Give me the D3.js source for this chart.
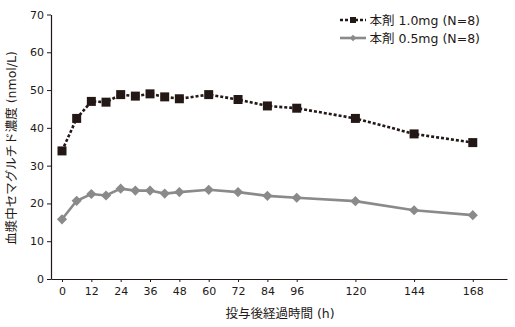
<!DOCTYPE html>
<html>
<head>
<meta charset="utf-8">
<script src="https://cdn.jsdelivr.net/npm/d3@7"></script>
<style>
  html, body { margin: 0; padding: 0; background: #fff; }
  svg { display: block; font-family: "DejaVu Sans", "Noto Sans CJK JP", sans-serif; }
</style>
</head>
<body>
<svg id="chart" width="515" height="327"></svg>
<script>
// Sampling times (h) after dosing
const hours = [0, 6, 12, 18, 24, 30, 36, 42, 48, 60, 72, 84, 96, 120, 144, 168];
// Mean plasma semaglutide concentration (nmol/L)
const dose10 = [33.9, 42.5, 47.0, 46.8, 48.8, 48.4, 49.0, 48.2, 47.7, 48.8, 47.5, 45.8, 45.2, 42.5, 38.4, 36.1];
const dose05 = [15.8, 20.7, 22.5, 22.1, 23.9, 23.4, 23.4, 22.6, 23.0, 23.6, 23.0, 22.0, 21.5, 20.6, 18.2, 16.9];
const xTicks = [0, 12, 24, 36, 48, 60, 72, 84, 96, 120, 144, 168];
const yTicks = [0, 10, 20, 30, 40, 50, 60, 70];
const seriesNames = ["本剤 1.0mg (N=8)", "本剤 0.5mg (N=8)"];

const svg = d3.select("#chart");
const ink = "#231815", grey = "#8a8a8a";

const x = d3.scaleLinear().domain([-4.5, 182]).range([51, 507]);
const y = d3.scaleLinear().domain([0, 70]).range([279, 14.5]);

// axes
const xAxis = svg.append("g").attr("transform", `translate(0,${y(0)})`)
  .call(d3.axisBottom(x).tickValues(xTicks).tickSize(3).tickSizeOuter(0).tickPadding(5));
const yAxis = svg.append("g").attr("transform", `translate(${x(-4.5)},0)`)
  .call(d3.axisLeft(y).tickValues(yTicks).tickSize(4).tickSizeOuter(0).tickPadding(3));
[xAxis, yAxis].forEach(g => {
  g.select(".domain").attr("stroke", ink).attr("stroke-width", 1.2);
  g.selectAll(".tick line").attr("stroke", ink).attr("stroke-width", 1);
  g.selectAll(".tick text").attr("fill", ink).style("font-size", "11px")
    .style("font-family", "DejaVu Sans, sans-serif");
});

// axis titles
svg.append("text").attr("x", 280).attr("y", 318).attr("text-anchor", "middle")
  .attr("fill", ink).style("font-size", "12.5px").text("投与後経過時間 (h)");
svg.append("text").attr("transform", "translate(16,148) rotate(-90)").attr("text-anchor", "middle")
  .attr("fill", ink).style("font-size", "12.5px").text("血漿中セマグルチド濃度 (nmol/L)");

const line = d3.line().x(d => x(d[0])).y(d => y(d[1]));
const pts10 = hours.map((h, i) => [h, dose10[i]]);
const pts05 = hours.map((h, i) => [h, dose05[i]]);

// 0.5 mg: solid grey line with diamonds
svg.append("path").datum(pts05).attr("d", line).attr("fill", "none")
  .attr("stroke", grey).attr("stroke-width", 2.6);
svg.append("g").selectAll("path").data(pts05).join("path")
  .attr("transform", d => `translate(${x(d[0])},${y(d[1])}) rotate(45)`)
  .attr("d", d3.symbol().type(d3.symbolSquare).size(52)).attr("fill", grey);

// 1.0 mg: dotted black line with squares
svg.append("path").datum(pts10).attr("d", line).attr("fill", "none")
  .attr("stroke", ink).attr("stroke-width", 2.6).attr("stroke-dasharray", "3,2");
svg.append("g").selectAll("path").data(pts10).join("path")
  .attr("transform", d => `translate(${x(d[0])},${y(d[1])})`)
  .attr("d", d3.symbol().type(d3.symbolSquare).size(81)).attr("fill", ink);

// legend
const lg = svg.append("g");
const rows = [
  { name: seriesNames[0], color: ink, dash: "3,2", sym: "square", yy: 20 },
  { name: seriesNames[1], color: grey, dash: null, sym: "diamond", yy: 38 }
];
rows.forEach(r => {
  lg.append("line").attr("x1", 340).attr("x2", 366).attr("y1", r.yy).attr("y2", r.yy)
    .attr("stroke", r.color).attr("stroke-width", 2.6).attr("stroke-dasharray", r.dash);
  const s = lg.append("path").attr("fill", r.color);
  if (r.sym === "square") s.attr("transform", `translate(353,${r.yy})`).attr("d", d3.symbol().type(d3.symbolSquare).size(36));
  else s.attr("transform", `translate(353,${r.yy}) rotate(45)`).attr("d", d3.symbol().type(d3.symbolSquare).size(22));
  lg.append("text").attr("x", 369.5).attr("y", r.yy + 4.5).attr("fill", ink)
    .style("font-size", "12.5px").text(r.name);
});
</script>
</body>
</html>
